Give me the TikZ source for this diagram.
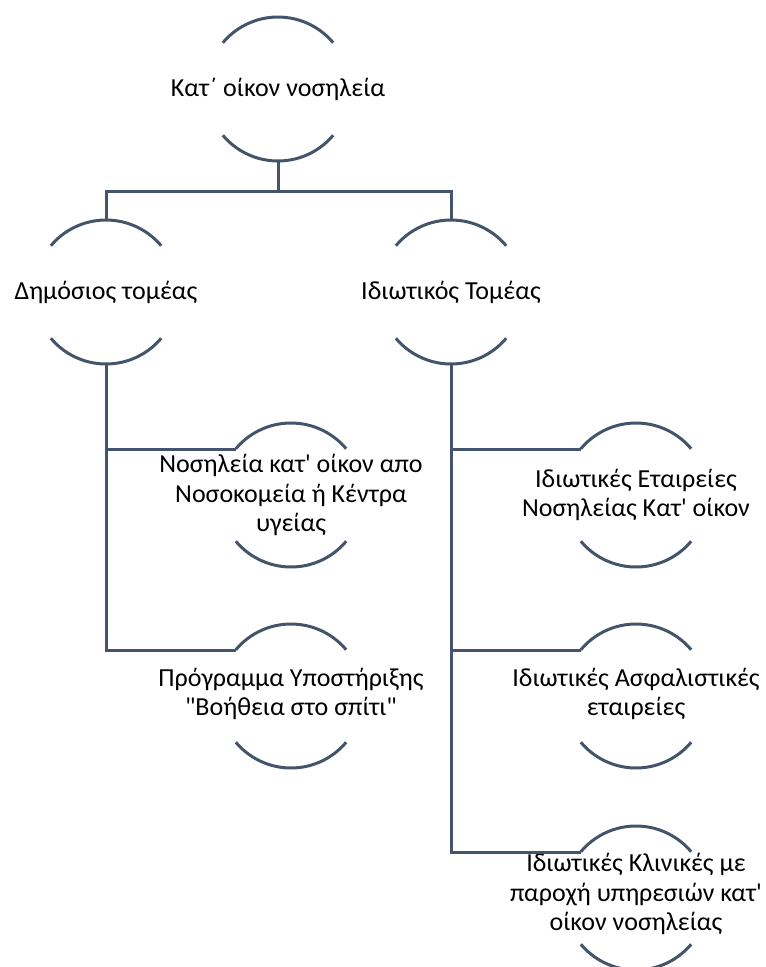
\documentclass[tikz,border=0pt]{standalone}
\usepackage{fontspec}
\newfontfamily\calfont{Carlito}
\usetikzlibrary{calc}
\definecolor{linec}{HTML}{44546A}
\newcommand\halfarcs[1]{%
  \draw[arcline] ([shift={(140:72)}]#1.center) arc[start angle=140,end angle=40,radius=72];
  \draw[arcline] ([shift={(220:72)}]#1.center) arc[start angle=220,end angle=320,radius=72];}
\begin{document}
\begin{tikzpicture}[x=1pt,y=1pt,
  arcline/.style={draw=linec,line width=3pt},
  conn/.style={draw=linec,line width=3pt},
  lbl/.style={font=\calfont\fontsize{26}{29.5}\selectfont,align=center,inner sep=0pt,text=black}]
\useasboundingbox (0,0) rectangle (766,-967);
\begin{scope}
\clip (0,0) rectangle (766,-967);
\node[lbl] (root) at (278,-89) {Κατ΄ οίκον νοσηλεία};
\node[lbl] (dem) at (106,-292) {Δημόσιος τομέας};
\node[lbl] (priv) at (451,-292) {Ιδιωτικός Τομέας};
\node[lbl] (l1) at (291,-495) {Νοσηλεία κατ' οίκον απο\\Νοσοκομεία ή Κέντρα\\υγείας};
\node[lbl] (l2) at (291,-694) {Πρόγραμμα Υποστήριξης\\"Βοήθεια στο σπίτι"};
\node[lbl] (r1) at (636,-495) {Ιδιωτικές Εταιρείες\\Νοσηλείας Κατ' οίκον};
\node[lbl] (r2) at (636,-694) {Ιδιωτικές Ασφαλιστικές\\εταιρείες};
\node[lbl] (r3) at (636,-894) {Ιδιωτικές Κλινικές με\\παροχή υπηρεσιών κατ'\\οίκον νοσηλείας};
\coordinate (l2c) at (291,-696);
\coordinate (r2c) at (636,-696);
\coordinate (r3c) at (636,-898);
\halfarcs{root}
\halfarcs{dem}
\halfarcs{priv}
\halfarcs{l1}
\halfarcs{l2c}
\halfarcs{r1}
\halfarcs{r2c}
\halfarcs{r3c}
\draw[conn] ($(root.center)+(0,-72)$) -- ++(0,-30) -| ($(dem.center)+(0,72)$);
\draw[conn] ($(root.center)+(0,-102)$) -| ($(priv.center)+(0,72)$);
\draw[conn] ($(dem.center)+(0,-72)$) |- ($(l1.center)+(-55,46)$);
\draw[conn] ($(dem.center)+(0,-72)$) |- ($(l2c)+(-55,46)$);
\draw[conn] ($(priv.center)+(0,-72)$) |- ($(r1.center)+(-55,46)$);
\draw[conn] ($(priv.center)+(0,-72)$) |- ($(r2c)+(-55,46)$);
\draw[conn] ($(priv.center)+(0,-72)$) |- ($(r3c)+(-55,46)$);
\end{scope}
\end{tikzpicture}
\end{document}
